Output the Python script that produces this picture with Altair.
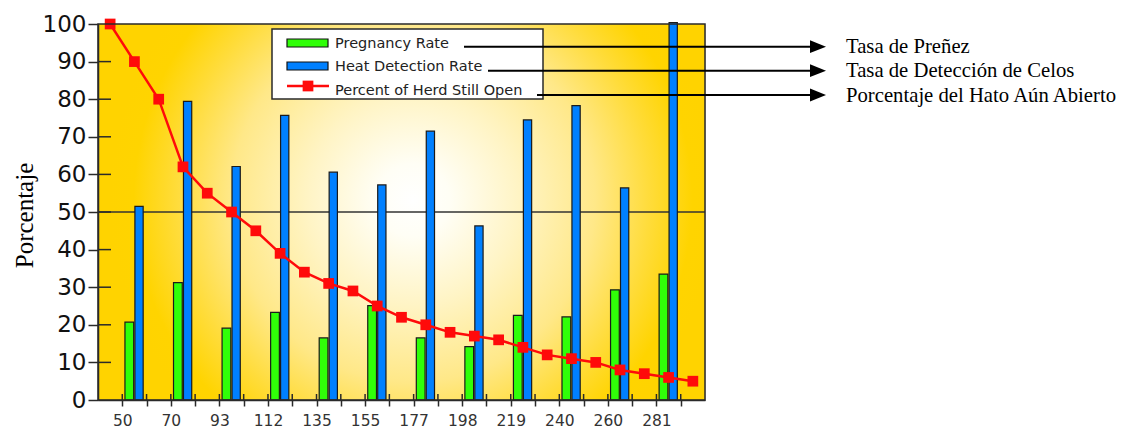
import altair as alt
import pandas as pd

# ---------------- data ----------------
day_labels = ["50", "70", "93", "112", "135", "155", "177", "198", "219", "240", "260", "281"]
pregnancy_rate = [20.7, 31.2, 19.1, 23.3, 16.5, 25.1, 16.5, 14.2, 22.5, 22.1, 29.3, 33.5]
heat_detection_rate = [51.5, 79.4, 62.1, 75.7, 60.6, 57.2, 71.5, 46.3, 74.5, 78.3, 56.4, 100.4]
percent_open = [100, 90, 80, 62, 55, 50, 45, 39, 34, 31, 29, 25, 22, 20, 18, 17, 16, 14, 12,
                11, 10, 8, 7, 6, 5]
legend_labels = ["Pregnancy Rate", "Heat Detection Rate", "Percent of Herd Still Open"]
spanish_labels = ["Tasa de Preñez", "Tasa de Detección de Celos", "Porcentaje del Hato Aún Abierto"]
y_title = "Porcentaje"

# ---------------- styling ----------------
W, H = 607, 376
N_SLOTS = len(percent_open)
GREEN, BLUE, RED = "#30FF08", "#0080FF", "#FF0A0A"
DARK = "#2a2a2a"
# bar placement inside a slot (fraction of slot width)
OFFS = {"Pregnancy Rate": (0.11, 0.47), "Heat Detection Rate": (0.52, 0.86)}

rows = []
for g, (p, h) in enumerate(zip(pregnancy_rate, heat_detection_rate)):
    slot = 2 * g + 1
    for name, v in (("Pregnancy Rate", p), ("Heat Detection Rate", h)):
        a, b = OFFS[name]
        rows.append({"series": name, "x0": slot + a, "x1": slot + b, "value": v})
bars_df = pd.DataFrame(rows)
line_df = pd.DataFrame({"x": [i + 0.5 for i in range(N_SLOTS)], "value": percent_open})
one = pd.DataFrame({"a": [0]})

xscale = alt.Scale(domain=[0, N_SLOTS], nice=False, zero=False)
yscale = alt.Scale(domain=[0, 100], nice=False)

label_arr = "[" + ",".join("'%s'" % s for s in day_labels) + "]"
x_axis = alt.Axis(
    values=list(range(1, N_SLOTS)),
    labelExpr=f"datum.value % 2 == 1 ? {label_arr}[(datum.value - 1) / 2] : ''",
    tickSize=6, labelPadding=7, labelFont="DejaVu Sans", labelFontSize=15.5,
    labelColor="#333", tickColor=DARK, tickWidth=1.5, domainColor=DARK, domainWidth=1.5,
    grid=False, title=None, zindex=1, labelOverlap=False, labelFlush=False,
)
y_axis = alt.Axis(
    values=list(range(0, 101, 10)), tickSize=10, labelPadding=2, labelOverlap=False,
    labelFont="DejaVu Sans", labelFontSize=23, labelColor="#111", labelFlush=False,
    tickColor=DARK, tickWidth=1.5, domainColor=DARK, domainWidth=1.5, grid=False,
    title=y_title, titleFont="Liberation Serif", titleFontSize=25, titleFontWeight="normal",
    titleColor="#000", titleAngle=270, titleAlign="center", titleBaseline="middle",
    titleX=-74, titleY=H / 2 + 3, zindex=1,
)

# background radial gradient (SVG pattern maps to a square of side max(W, H))
side = max(W, H)
cx = 315 / side
cy = (176 + (side - H) / 2) / side
grad = alt.RadialGradient(
    gradient="radial",
    stops=[
        alt.GradientStop(offset=0.0, color="#FFFFFF"),
        alt.GradientStop(offset=0.12, color="#FFFEF5"),
        alt.GradientStop(offset=0.35, color="#FFF4C4"),
        alt.GradientStop(offset=0.6, color="#FFE888"),
        alt.GradientStop(offset=0.78, color="#FFDC3A"),
        alt.GradientStop(offset=0.92, color="#FFD400"),
        alt.GradientStop(offset=1.0, color="#FFD300"),
    ],
    x1=cx, y1=cy, r1=0, x2=cx, y2=cy, r2=0.5,
)

bg = alt.Chart(one).mark_rect(fill=grad).encode(
    x=alt.value(0), x2=alt.value(W), y=alt.value(0), y2=alt.value(H))
frame = alt.Chart(one).mark_rect(fillOpacity=0, stroke=DARK, strokeWidth=1.5).encode(
    x=alt.value(0), x2=alt.value(W), y=alt.value(0), y2=alt.value(H))
grid50 = alt.Chart(pd.DataFrame({"v": [50]})).mark_rule(color="#333", strokeWidth=1.5).encode(
    y=alt.Y("v:Q", scale=yscale, axis=y_axis), x=alt.value(0), x2=alt.value(W))

yticks_in = alt.Chart(pd.DataFrame({"v": list(range(10, 100, 10))})).mark_rule(
    color=DARK, strokeWidth=1.5).encode(y=alt.Y("v:Q", scale=yscale, axis=y_axis),
                                         x=alt.value(0), x2=alt.value(13))
xticks_in = alt.Chart(pd.DataFrame({"t": list(range(1, N_SLOTS))})).mark_rule(
    color=DARK, strokeWidth=1.5).encode(x=alt.X("t:Q", scale=xscale, axis=x_axis),
                                         y=alt.value(H - 6), y2=alt.value(H))

bars = alt.Chart(bars_df).mark_bar(stroke="#1a1a1a", strokeWidth=1.2, clip=False).encode(
    x=alt.X("x0:Q", scale=xscale, axis=x_axis), x2="x1:Q",
    y=alt.Y("value:Q", scale=yscale, axis=y_axis), y2=alt.datum(0),
    color=alt.Color("series:N", scale=alt.Scale(domain=legend_labels[:2], range=[GREEN, BLUE]),
                    legend=None),
)

line = alt.Chart(line_df).mark_line(
    color=RED, strokeWidth=2.5,
    point=alt.OverlayMarkDef(shape="square", size=115, filled=True, color=RED, opacity=1),
).encode(x=alt.X("x:Q", scale=xscale, axis=x_axis), y=alt.Y("value:Q", scale=yscale, axis=y_axis))

# -------- manual legend --------
LX0, LX1, LY0, LY1 = 174, 445, 5, 75
layers_leg = [
    alt.Chart(one).mark_rect(fill="white", stroke=DARK, strokeWidth=1.5).encode(
        x=alt.value(LX0), x2=alt.value(LX1), y=alt.value(LY0), y2=alt.value(LY1)),
    alt.Chart(one).mark_rect(fill=GREEN, stroke="#111", strokeWidth=1.2).encode(
        x=alt.value(189), x2=alt.value(230), y=alt.value(15), y2=alt.value(23)),
    alt.Chart(one).mark_rect(fill=BLUE, stroke="#111", strokeWidth=1.2).encode(
        x=alt.value(189), x2=alt.value(230), y=alt.value(38), y2=alt.value(46)),
    alt.Chart(one).mark_rule(color=RED, strokeWidth=2.5).encode(
        x=alt.value(189), x2=alt.value(231), y=alt.value(62)),
    alt.Chart(one).mark_point(shape="square", size=115, filled=True, color=RED, opacity=1).encode(
        x=alt.value(210), y=alt.value(62)),
]
text_baselines = [23.5, 47.3, 70.5]
for lab, yb in zip(legend_labels, text_baselines):
    layers_leg.append(alt.Chart(one).mark_text(
        text=lab, align="left", baseline="alphabetic", font="DejaVu Sans", fontSize=14.5,
        color="#222").encode(x=alt.value(237), y=alt.value(yb)))

# -------- leader lines, arrows and Spanish labels --------
lead_starts = [366, 390, 439]
lead_ys = [22.7, 46.7, 71]
layers_ann = []
for xs, yl, lab in zip(lead_starts, lead_ys, spanish_labels):
    layers_ann.append(alt.Chart(one).mark_rule(color="#000", strokeWidth=2).encode(
        x=alt.value(xs), x2=alt.value(713), y=alt.value(yl)))
    layers_ann.append(alt.Chart(one).mark_point(
        shape="M -1 -0.8 L 1 0 L -1 0.8 Z", size=256, filled=True, color="#000", opacity=1).encode(
        x=alt.value(720), y=alt.value(yl)))
    layers_ann.append(alt.Chart(one).mark_text(
        text=lab, align="left", baseline="alphabetic", font="Liberation Serif", fontSize=20.7,
        color="#000").encode(x=alt.value(748), y=alt.value(yl + 6.5)))

chart = alt.layer(
    bg, grid50, bars, yticks_in, xticks_in, line, frame, *layers_leg, *layers_ann
).properties(
    width=W, height=H,
    padding={"left": 90, "top": 16, "right": 412, "bottom": 28},
    autosize=alt.AutoSizeParams(type="none"),
).configure_view(stroke=None).configure(background="white")

chart.save("out.html", embed_options={"renderer": "svg", "actions": False})
